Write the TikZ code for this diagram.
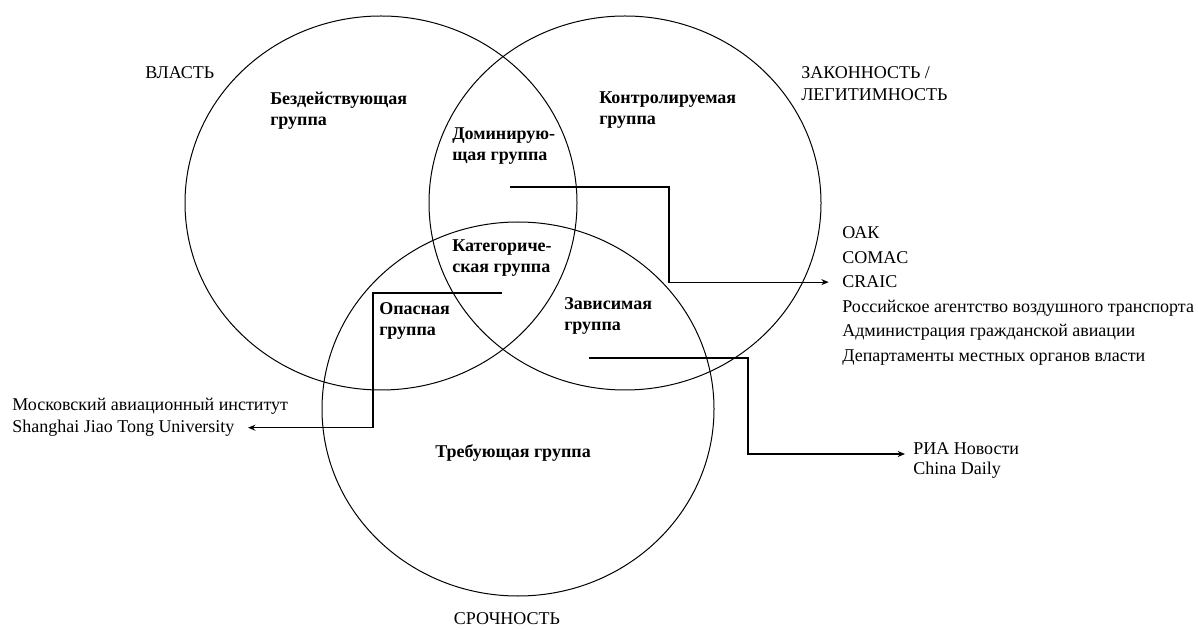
\documentclass[tikz,border=0pt]{standalone}
\usepackage{fontspec}
\setmainfont{Liberation Serif}
\usetikzlibrary{arrows.meta}
\newcommand\rx{196}
\newcommand\ry{187}

\begin{document}
\begin{tikzpicture}[x=0.75pt, y=-0.75pt, >={Stealth[length=5.5pt,width=4.5pt]},
    ring/.style={line width=0.75pt},
    grp/.style={font=\fontsize{13.5}{15.75}\selectfont\bfseries, align=left, anchor=west, inner sep=0pt},
    lbl/.style={font=\fontsize{13.5}{16.5}\selectfont, align=left, anchor=west, inner sep=0pt},
    itm/.style={font=\fontsize{13.5}{16.5}\selectfont, anchor=base west, inner sep=0pt},
    link/.style={->, line width=0.9pt}]
    \useasboundingbox (0,0) rectangle (1198,630);

    %three attributes
    \coordinate (pw) at (381,203);
    \coordinate (lg) at (625,203);
    \coordinate (ur) at (518,409);
    \draw [ring] (pw) ellipse [x radius=\rx, y radius=\ry];
    \draw [ring] (lg) ellipse [x radius=\rx, y radius=\ry];
    \draw [ring] (ur) ellipse [x radius=\rx, y radius=\ry];

    \node [lbl] (power) at (145,73) {ВЛАСТЬ};
    \node [lbl] (legit) at (801,84) {ЗАКОННОСТЬ /\\ЛЕГИТИМНОСТЬ};
    \node [lbl, anchor=center] (urgency) at (507,619) {СРОЧНОСТЬ};

    %stakeholder groups
    \node [grp] (dormant) at (270,110.5) {Бездействующая\\группа};
    \node [grp] (dominant) at (452,146.5) {Доминирую-\\щая группа};
    \node [grp] (controlled) at (599,110.5) {Контролируемая\\группа};
    \node [grp] (categorical) at (452,258.5) {Категориче-\\ская группа};
    \node [grp] (dangerous) at (379,321) {Опасная\\группа};
    \node [grp] (dependent) at (564,316) {Зависимая\\группа};
    \node [grp, anchor=center] (demanding) at (513,453) {Требующая группа};

    %who is in them
    \node [itm] (oak) at (842,239) {ОАК};
    \node [itm] (comac) at (842,263.5) {COMAC};
    \node [itm] (craic) at (842,288) {CRAIC};
    \node [itm] (rosav) at (842,312.5) {Российское агентство воздушного транспорта};
    \node [itm] (caac) at (842,337) {Администрация гражданской авиации};
    \node [itm] (depts) at (842,361.5) {Департаменты местных органов власти};

    \node [itm] (mai) at (12,411) {Московский авиационный институт};
    \node [itm] (sjtu) at (12,432) {Shanghai Jiao Tong University};

    \node [itm] (ria) at (913,454) {РИА Новости};
    \node [itm] (chd) at (913,474) {China Daily};

    %links
    \coordinate (domln) at (510,187);
    \coordinate (catln) at (502,293);
    \coordinate (depln) at (589,358);
    \draw [link, shorten >=10pt] (domln) -- ++(159,0) |- (craic.west);
    \draw [link, shorten >=10pt] (catln) -- ++(-129,0) |- (sjtu.east);
    \draw [link, shorten >=6pt] (depln) -- ++(159,0) |- (ria.base west);
\end{tikzpicture}
\end{document}
